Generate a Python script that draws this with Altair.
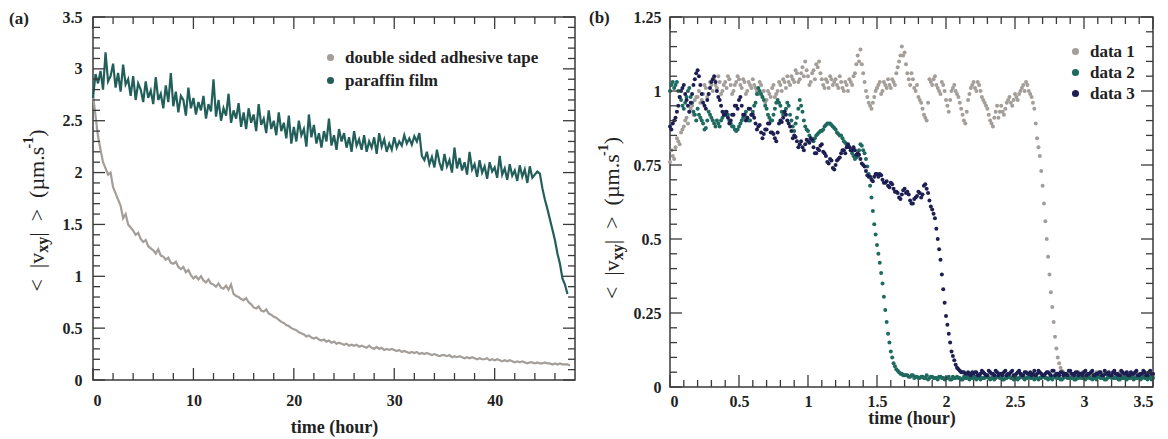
import altair as alt
import pandas as pd

# ---------------- panel (a): mean speed vs time, two substrates ----------------
A_STEP = 0.25  # hours between samples
A_SERIES = ["double sided adhesive tape", "paraffin film"]
A_COLORS = ["#a39e99", "#235f5a"]

tape = [
    2.75, 2.55, 2.35, 2.22, 2.10, 2.04, 1.98, 2.00, 1.86, 1.80, 1.74, 1.68,
    1.56, 1.60, 1.50, 1.47, 1.44, 1.40, 1.42, 1.36, 1.33, 1.35, 1.29, 1.27,
    1.25, 1.22, 1.26, 1.20, 1.19, 1.16, 1.18, 1.13, 1.12, 1.14, 1.09, 1.07,
    1.09, 1.04, 1.06, 1.01, 0.98, 1.00, 0.97, 1.00, 0.96, 0.94, 0.97, 0.93,
    0.92, 0.90, 0.93, 0.89, 0.88, 0.91, 0.87, 0.92, 0.83, 0.81, 0.80, 0.78,
    0.77, 0.79, 0.75, 0.73, 0.70, 0.69, 0.71, 0.67, 0.66, 0.68, 0.64, 0.63,
    0.61, 0.60, 0.58, 0.56, 0.55, 0.53, 0.52, 0.50, 0.49, 0.48, 0.46, 0.45,
    0.44, 0.42, 0.43, 0.41, 0.40, 0.41, 0.39, 0.38, 0.39, 0.37, 0.38, 0.36,
    0.37, 0.35, 0.36, 0.35, 0.34, 0.35, 0.33, 0.34, 0.33, 0.34, 0.32, 0.33,
    0.32, 0.31, 0.33, 0.31, 0.30, 0.32, 0.30, 0.31, 0.29, 0.30, 0.29, 0.30,
    0.29, 0.28, 0.29, 0.27, 0.28, 0.27, 0.26, 0.27, 0.26, 0.27, 0.25, 0.26,
    0.25, 0.26, 0.25, 0.24, 0.25, 0.24, 0.23, 0.24, 0.24, 0.23, 0.24, 0.22,
    0.23, 0.22, 0.23, 0.22, 0.21, 0.22, 0.21, 0.22, 0.21, 0.20, 0.21, 0.20,
    0.20, 0.21, 0.19, 0.20, 0.19, 0.20, 0.19, 0.18, 0.19, 0.18, 0.19, 0.18,
    0.17, 0.18, 0.17, 0.18, 0.17, 0.16, 0.17, 0.17, 0.16, 0.17, 0.16, 0.16,
    0.17, 0.16, 0.16, 0.15, 0.16, 0.15, 0.16, 0.15, 0.15, 0.15, 0.14,
]

film = [
    2.72, 2.95, 2.86, 2.98, 2.80, 3.16, 2.88, 2.93, 3.05, 2.82, 2.96, 2.78,
    3.04, 2.85, 2.90, 2.74, 2.93, 2.70, 2.86, 2.80, 2.68, 2.88, 2.72, 2.79,
    2.66, 2.92, 2.70, 2.76, 2.62, 2.84, 2.68, 2.96, 2.64, 2.78, 2.58, 2.74,
    2.70, 2.55, 2.82, 2.62, 2.72, 2.56, 2.68, 2.60, 2.74, 2.52, 2.66, 2.59,
    2.90, 2.54, 2.70, 2.50, 2.62, 2.55, 2.76, 2.48, 2.60, 2.52, 2.67, 2.44,
    2.58, 2.42, 2.62, 2.48, 2.56, 2.40, 2.66, 2.46, 2.52, 2.38, 2.60, 2.42,
    2.50, 2.36, 2.58, 2.40, 2.48, 2.33, 2.55, 2.28, 2.44, 2.30, 2.50, 2.36,
    2.42, 2.25, 2.56, 2.34, 2.46, 2.28, 2.38, 2.24, 2.40, 2.30, 2.52, 2.26,
    2.36, 2.22, 2.42, 2.30, 2.38, 2.24, 2.34, 2.20, 2.40, 2.26, 2.32, 2.22,
    2.36, 2.20, 2.30, 2.24, 2.34, 2.18, 2.38, 2.25, 2.32, 2.20, 2.28, 2.22,
    2.34, 2.24, 2.30, 2.26, 2.36, 2.28, 2.33, 2.27, 2.35, 2.30, 2.38, 2.16,
    2.12, 2.20, 2.08, 2.15, 2.05, 2.22, 2.10, 2.02, 2.18, 2.06, 2.12, 2.00,
    2.24, 2.04, 2.14, 2.02, 2.10, 1.98, 2.20, 2.03, 2.08, 1.96, 2.12, 2.00,
    2.06, 1.94, 2.10, 2.01, 2.05, 1.95, 2.16, 1.98, 2.04, 1.93, 2.08, 1.97,
    2.02, 1.92, 2.07, 1.96, 2.03, 1.90, 2.06, 1.95, 1.98, 2.01, 1.99, 1.85,
    1.74, 1.65, 1.55, 1.45, 1.35, 1.22, 1.12, 0.98, 0.92, 0.83,
]

A_XMAJ = [0, 10, 20, 30, 40]
A_XMIN = [2, 4, 6, 8, 12, 14, 16, 18, 22, 24, 26, 28, 32, 34, 36, 38, 42, 44, 46]
A_YMAJ = [0, 0.5, 1, 1.5, 2, 2.5, 3, 3.5]
A_YMIN = [round(i * 0.1, 1) for i in range(1, 35) if i % 5]

# ---------------- panel (b): three runs on a short time scale ----------------
# each run sampled every 0.01 h: "even" samples at 0.00, 0.02, ... and "odd" at 0.01, 0.03, ...
B_SERIES = ["data 1", "data 2", "data 3"]
B_COLORS = ["#a39e99", "#1f6a5e", "#1d1f52"]

data1_even = [
    0.76, 0.78, 0.81, 0.83, 0.86, 0.88, 0.91, 0.93, 0.95, 0.97,
    0.98, 0.96, 0.99, 1.01, 0.99, 1.02, 1.04, 1.01, 1.03, 1.00,
    1.03, 1.05, 1.02, 1.00, 1.03, 1.04, 1.01, 1.03, 1.00, 1.02,
    1.04, 1.01, 0.99, 1.02, 1.00, 0.97, 0.99, 1.01, 0.98, 1.00,
    1.02, 1.04, 1.01, 1.03, 1.05, 1.03, 1.06, 1.04, 1.08, 1.10,
    1.05, 1.03, 1.07, 1.09, 1.10, 1.04, 1.01, 1.03, 1.05, 1.02,
    1.04, 1.01, 1.03, 1.00, 1.02, 1.04, 1.02, 1.06, 1.12, 1.14,
    1.06, 1.00, 0.96, 0.94, 0.98, 1.01, 1.03, 1.00, 1.02, 1.04,
    1.01, 1.03, 1.06, 1.10, 1.15, 1.13, 1.06, 1.02, 1.04, 1.00,
    0.98, 0.96, 0.92, 0.90, 1.04, 1.02, 1.05, 1.01, 0.99, 1.02,
    0.97, 0.93, 1.00, 1.02, 0.99, 0.96, 0.92, 0.89, 0.97, 1.01,
    1.03, 1.00, 1.02, 0.98, 0.96, 0.94, 0.90, 0.88, 0.93, 0.91,
    0.95, 0.92, 0.96, 0.98, 0.95, 0.99, 0.97, 1.00, 1.02, 1.03,
    1.00, 0.98, 0.94, 0.84, 0.78, 0.68, 0.56, 0.44, 0.32, 0.22,
    0.13, 0.08, 0.055, 0.045, 0.04, 0.035, 0.045, 0.04, 0.05, 0.035,
    0.04, 0.045, 0.035, 0.05, 0.04, 0.035, 0.045, 0.04, 0.05, 0.04,
    0.035, 0.045, 0.04, 0.05, 0.035, 0.04, 0.045, 0.04, 0.035, 0.05,
    0.04, 0.045, 0.035, 0.04, 0.05, 0.04,
]
data1_odd = [
    0.80, 0.77, 0.84, 0.82, 0.87, 0.90, 0.89, 0.94, 0.92, 0.98,
    1.00, 0.97, 1.02, 0.98, 1.03, 1.00, 1.02, 1.05, 0.99, 1.02,
    1.01, 1.04, 0.99, 1.02, 1.05, 1.02, 1.04, 0.99, 1.03, 1.01,
    1.02, 1.00, 1.03, 0.98, 0.96, 1.00, 0.98, 1.02, 0.99, 1.03,
    1.00, 1.03, 1.05, 1.02, 1.04, 1.07, 1.03, 1.06, 1.05, 1.07,
    1.02, 1.06, 1.04, 1.08, 1.06, 1.02, 1.04, 1.01, 1.04, 1.03,
    1.02, 1.05, 1.01, 1.03, 1.00, 1.03, 1.05, 1.09, 1.10, 1.09,
    1.03, 0.98, 0.95, 0.96, 1.00, 1.02, 0.99, 1.03, 1.01, 1.02,
    1.04, 1.02, 1.08, 1.12, 1.12, 1.09, 1.04, 1.06, 1.01, 1.02,
    0.97, 0.94, 0.91, 0.96, 1.03, 1.04, 1.02, 1.00, 1.03, 1.00,
    0.95, 0.97, 1.01, 1.00, 0.98, 0.94, 0.90, 0.93, 0.99, 1.02,
    1.01, 1.03, 1.00, 0.97, 0.95, 0.92, 0.89, 0.91, 0.95, 0.93,
    0.93, 0.94, 0.97, 0.96, 0.97, 0.98, 0.99, 1.01, 1.00, 1.02,
    0.99, 0.96, 0.89, 0.81, 0.73, 0.62, 0.50, 0.38, 0.27, 0.17,
    0.10, 0.065, 0.05, 0.04, 0.045, 0.04, 0.035, 0.045, 0.04, 0.05,
    0.035, 0.04, 0.045, 0.04, 0.05, 0.04, 0.035, 0.045, 0.04, 0.035,
    0.045, 0.04, 0.035, 0.045, 0.04, 0.05, 0.035, 0.045, 0.04, 0.045,
    0.035, 0.04, 0.045, 0.04, 0.05,
]

data2_even = [
    1.00, 1.03, 1.02, 1.00, 0.97, 0.94, 0.98, 1.01, 0.96, 0.92,
    0.94, 0.91, 0.89, 0.875, 0.93, 0.91, 0.89, 0.90, 0.88, 0.91,
    0.93, 0.92, 0.89, 0.88, 0.865, 0.88, 0.90, 0.92, 0.91, 0.90,
    0.93, 0.96, 1.01, 0.99, 0.97, 0.94, 0.91, 0.90, 0.94, 0.97,
    0.95, 0.92, 0.94, 0.95, 0.90, 0.865, 0.91, 0.97, 0.93, 0.88,
    0.865, 0.84, 0.83, 0.85, 0.86, 0.865, 0.88, 0.89, 0.89, 0.88,
    0.87, 0.855, 0.85, 0.83, 0.82, 0.81, 0.79, 0.77, 0.78, 0.82,
    0.80, 0.77, 0.72, 0.64, 0.55, 0.48, 0.42, 0.35, 0.26, 0.18,
    0.12, 0.08, 0.06, 0.05, 0.045, 0.04, 0.04, 0.035, 0.04, 0.035,
    0.03, 0.035, 0.03, 0.04, 0.03, 0.035, 0.03, 0.025, 0.035, 0.03,
    0.03, 0.035, 0.025, 0.03, 0.035, 0.03, 0.025, 0.03, 0.035, 0.03,
    0.03, 0.025, 0.035, 0.03, 0.03, 0.035, 0.025, 0.03, 0.03, 0.035,
    0.03, 0.025, 0.03, 0.035, 0.03, 0.03, 0.025, 0.035, 0.03, 0.03,
    0.035, 0.03, 0.025, 0.03, 0.03, 0.035, 0.03, 0.025, 0.03, 0.035,
    0.03, 0.03, 0.025, 0.035, 0.03, 0.03, 0.035, 0.025, 0.03, 0.03,
    0.035, 0.03, 0.03, 0.025, 0.03, 0.035, 0.03, 0.03, 0.025, 0.035,
    0.03, 0.03, 0.035, 0.025, 0.03, 0.03, 0.035, 0.03, 0.025, 0.03,
    0.035, 0.03, 0.03, 0.025, 0.035, 0.03,
]
data2_odd = [
    1.02, 1.01, 1.03, 0.98, 0.95, 0.96, 1.00, 0.98, 0.93, 0.90,
    0.92, 0.90, 0.87, 0.90, 0.92, 0.90, 0.88, 0.89, 0.90, 0.92,
    0.92, 0.90, 0.88, 0.87, 0.87, 0.89, 0.91, 0.93, 0.90, 0.92,
    0.95, 0.99, 1.00, 0.98, 0.95, 0.92, 0.90, 0.92, 0.96, 0.96,
    0.93, 0.93, 0.96, 0.92, 0.88, 0.89, 0.94, 0.95, 0.90, 0.87,
    0.85, 0.835, 0.84, 0.855, 0.865, 0.87, 0.885, 0.89, 0.885, 0.875,
    0.86, 0.85, 0.84, 0.825, 0.815, 0.80, 0.78, 0.775, 0.80, 0.815,
    0.79, 0.745, 0.68, 0.595, 0.515, 0.45, 0.385, 0.305, 0.22, 0.15,
    0.10, 0.07, 0.055, 0.045, 0.04, 0.04, 0.035, 0.04, 0.03, 0.035,
    0.03, 0.035, 0.03, 0.025, 0.035, 0.03, 0.03, 0.035, 0.03, 0.025,
    0.03, 0.025, 0.035, 0.03, 0.03, 0.025, 0.035, 0.03, 0.025, 0.03,
    0.035, 0.03, 0.025, 0.03, 0.035, 0.03, 0.03, 0.025, 0.035, 0.03,
    0.025, 0.03, 0.035, 0.03, 0.025, 0.03, 0.03, 0.035, 0.025, 0.03,
    0.03, 0.035, 0.03, 0.025, 0.03, 0.035, 0.03, 0.03, 0.025, 0.035,
    0.03, 0.025, 0.03, 0.035, 0.03, 0.03, 0.025, 0.03, 0.035, 0.03,
    0.025, 0.035, 0.03, 0.03, 0.025, 0.035, 0.03, 0.025, 0.03, 0.035,
    0.03, 0.03, 0.025, 0.035, 0.03, 0.025, 0.03, 0.035, 0.03, 0.03,
    0.025, 0.035, 0.03, 0.03, 0.025,
]

data3_even = [
    0.88, 0.89, 0.91, 0.95, 1.00, 1.02, 0.97, 0.93, 0.99, 1.04,
    1.07, 1.02, 0.96, 0.94, 0.99, 1.03, 1.05, 1.00, 0.97, 0.93,
    0.92, 0.91, 0.90, 0.92, 0.95, 0.97, 0.95, 0.92, 0.91, 0.94,
    0.92, 0.89, 0.88, 0.86, 0.855, 0.87, 0.89, 0.86, 0.84, 0.86,
    0.90, 0.91, 0.92, 0.89, 0.865, 0.85, 0.83, 0.82, 0.81, 0.82,
    0.83, 0.84, 0.81, 0.79, 0.80, 0.82, 0.79, 0.76, 0.77, 0.74,
    0.75, 0.77, 0.79, 0.80, 0.81, 0.81, 0.80, 0.80, 0.79, 0.77,
    0.75, 0.73, 0.71, 0.70, 0.71, 0.72, 0.72, 0.70, 0.69, 0.68,
    0.69, 0.67, 0.66, 0.64, 0.65, 0.67, 0.66, 0.63, 0.62, 0.64,
    0.66, 0.64, 0.68, 0.67, 0.63, 0.60, 0.57, 0.50, 0.43, 0.33,
    0.24, 0.18, 0.12, 0.09, 0.065, 0.055, 0.05, 0.045, 0.05, 0.04,
    0.045, 0.05, 0.04, 0.055, 0.045, 0.04, 0.05, 0.045, 0.055, 0.04,
    0.045, 0.05, 0.04, 0.045, 0.055, 0.04, 0.05, 0.045, 0.04, 0.05,
    0.045, 0.04, 0.055, 0.045, 0.05, 0.04, 0.045, 0.05, 0.04, 0.055,
    0.045, 0.04, 0.05, 0.045, 0.04, 0.055, 0.045, 0.05, 0.04, 0.045,
    0.05, 0.04, 0.045, 0.055, 0.04, 0.045, 0.05, 0.04, 0.045, 0.05,
    0.04, 0.055, 0.045, 0.04, 0.05, 0.045, 0.04, 0.05, 0.045, 0.055,
    0.04, 0.045, 0.05, 0.04, 0.055, 0.045,
]
data3_odd = [
    0.87, 0.90, 0.93, 0.98, 1.01, 0.99, 0.95, 0.96, 1.02, 1.06,
    1.05, 0.99, 0.95, 0.97, 1.01, 1.04, 1.03, 0.98, 0.95, 0.92,
    0.93, 0.89, 0.92, 0.95, 0.94, 0.98, 0.92, 0.90, 0.94, 0.92,
    0.91, 0.87, 0.885, 0.84, 0.87, 0.89, 0.86, 0.855, 0.83, 0.89,
    0.895, 0.93, 0.90, 0.88, 0.84, 0.845, 0.81, 0.83, 0.80, 0.835,
    0.825, 0.835, 0.79, 0.805, 0.815, 0.795, 0.78, 0.755, 0.765, 0.735,
    0.765, 0.775, 0.80, 0.79, 0.82, 0.80, 0.81, 0.785, 0.785, 0.755,
    0.745, 0.715, 0.71, 0.695, 0.72, 0.71, 0.715, 0.69, 0.695, 0.675,
    0.685, 0.66, 0.655, 0.635, 0.665, 0.655, 0.65, 0.62, 0.635, 0.645,
    0.655, 0.65, 0.685, 0.655, 0.61, 0.585, 0.535, 0.465, 0.38, 0.285,
    0.21, 0.15, 0.105, 0.075, 0.06, 0.05, 0.05, 0.045, 0.045, 0.05,
    0.05, 0.04, 0.045, 0.05, 0.04, 0.055, 0.045, 0.04, 0.05, 0.045,
    0.04, 0.055, 0.045, 0.05, 0.04, 0.045, 0.055, 0.04, 0.05, 0.045,
    0.05, 0.045, 0.04, 0.055, 0.045, 0.04, 0.05, 0.045, 0.055, 0.04,
    0.045, 0.05, 0.04, 0.045, 0.055, 0.045, 0.04, 0.05, 0.045, 0.04,
    0.055, 0.045, 0.05, 0.04, 0.045, 0.05, 0.04, 0.055, 0.045, 0.04,
    0.05, 0.045, 0.04, 0.055, 0.045, 0.05, 0.04, 0.045, 0.05, 0.04,
    0.045, 0.055, 0.04, 0.05, 0.045,
]

B_XMAJ = [0, 0.5, 1, 1.5, 2, 2.5, 3, 3.5]
B_XMIN = [round(i * 0.1, 1) for i in range(1, 35) if i % 5]
B_YMAJ = [0, 0.25, 0.5, 0.75, 1, 1.25]
B_YMIN = [round(i * 0.05, 2) for i in range(1, 25) if i % 5]

# ---------------- styling ----------------
FONT = "Liberation Serif"
INK = "#222222"
FRAME = "#3a3a3a"
FMT = ".6~g"

# advance widths (em) of the glyphs used in the y title (Times metrics)
GLYPH_W = {"<": 0.564, ">": 0.564, "|": 0.2, "v": 0.5, "x": 0.5, "y": 0.5, "(": 0.333,
           ")": 0.333, "µ": 0.5, "m": 0.778, ".": 0.25, "s": 0.389, "-": 0.333, "1": 0.5,
           "\u2002": 0.5}
# (text, font size, weight, sideways shift) pieces of "< |v_xy| > (µm.s^-1)"
Y_TITLE_PIECES = [("<\u2002|v", 22, "normal", 0), ("xy", 16, "bold", 6),
                  ("|\u2002>\u2002(µm.s", 22, "normal", 0), ("-1", 14, "bold", -8),
                  (")", 22, "normal", 0)]


def x_axis(values, label_pad, title_pad):
    return alt.Axis(values=values, format=FMT, title="time (hour)", ticks=False, tickSize=0,
                    domain=False, grid=False, labelFont=FONT, labelFontSize=16,
                    labelFontWeight="bold", labelColor=INK, labelPadding=label_pad,
                    titleFont=FONT, titleFontSize=18, titleFontWeight="bold",
                    titleColor=INK, titlePadding=title_pad)


def y_axis(values, label_pad):
    return alt.Axis(values=values, format=FMT, title=None, ticks=False, tickSize=0,
                    domain=False, grid=False, labelFont=FONT, labelFontSize=16,
                    labelFontWeight="bold", labelColor=INK, labelPadding=label_pad)


def y_title_layers(x0, y_center):
    widths = [fs * sum(GLYPH_W[c] for c in txt) for txt, fs, _, _ in Y_TITLE_PIECES]
    y = y_center + sum(widths) / 2
    layers = []
    for (txt, fs, fw, dx), w in zip(Y_TITLE_PIECES, widths):
        layers.append(alt.Chart(pd.DataFrame({"s": [txt]})).mark_text(
            angle=270, align="left", baseline="middle", font=FONT, fontSize=fs,
            fontWeight=fw, color=INK
        ).encode(x=alt.value(x0 + dx), y=alt.value(y), text="s:N"))
        y -= w
    return layers


def tick_layers(X, Y, W, H, xmaj, xmin, ymaj, ymin):
    layers = []
    for vals, L in ((xmaj, 12), (xmin, 7)):
        base = alt.Chart(pd.DataFrame({"t": vals})).mark_tick(
            color=FRAME, thickness=1.3, size=L, opacity=1)
        layers.append(base.encode(x=X, y=alt.value(H - L / 2)))
        layers.append(base.encode(x=X, y=alt.value(L / 2)))
    for vals, L in ((ymaj, 12), (ymin, 7)):
        base = alt.Chart(pd.DataFrame({"v": vals})).mark_tick(
            color=FRAME, thickness=1.3, size=L, opacity=1)
        layers.append(base.encode(y=Y, x=alt.value(L / 2)))
        layers.append(base.encode(y=Y, x=alt.value(W - L / 2)))
    return layers


def legend(x, y, row_pad):
    return alt.Legend(title=None, orient="none", legendX=x, legendY=y, symbolType="circle",
                      symbolSize=50, symbolStrokeWidth=0, labelFont=FONT, labelFontSize=17,
                      labelFontWeight="bold", labelColor=INK, labelOffset=6, labelLimit=500,
                      rowPadding=row_pad, padding=0)


def panel_label(text, x, y):
    return alt.Chart(pd.DataFrame({"lab": [text]})).mark_text(
        font=FONT, fontSize=17, fontWeight="bold", color=INK, align="left", baseline="middle"
    ).encode(x=alt.value(x), y=alt.value(y), text="lab:N")


# ---------------- panel (a) ----------------
WA, HA = 482, 363
rows = []
for name, vals in zip(A_SERIES, [tape, film]):
    for i, v in enumerate(vals):
        rows.append({"t": i * A_STEP, "v": v, "series": name})
dfA = pd.DataFrame(rows)

XA = alt.X("t:Q", scale=alt.Scale(domain=[0, 48], nice=False, zero=False), axis=x_axis(A_XMAJ, 12, 10))
YA = alt.Y("v:Q", scale=alt.Scale(domain=[0, 3.5], nice=False), axis=y_axis(A_YMAJ, 11))
colA_scale = alt.Scale(domain=A_SERIES, range=A_COLORS)

legend_a = alt.Chart(dfA).mark_circle(size=50, opacity=1).encode(
    color=alt.Color("series:N", scale=colA_scale, legend=legend(229, 32, 5))
).transform_filter("false")
lines_a = alt.Chart(dfA).mark_line(strokeWidth=2.2).encode(
    x=XA, y=YA, color=alt.Color("series:N", scale=colA_scale, legend=None)
)
panel_a = alt.layer(
    legend_a, lines_a, *tick_layers(XA, YA, WA, HA, A_XMAJ, A_XMIN, A_YMAJ, A_YMIN),
    *y_title_layers(-56, HA / 2 + 12),
    panel_label("(a)", -84, 2)
).properties(width=WA, height=HA)

# ---------------- panel (b) ----------------
WB, HB = 483, 370
rows = []
for name, even, odd in zip(B_SERIES, [data1_even, data2_even, data3_even],
                           [data1_odd, data2_odd, data3_odd]):
    for i, v in enumerate(even):
        rows.append({"t": round(i * 0.02, 2), "v": v, "series": name})
    for i, v in enumerate(odd):
        rows.append({"t": round(0.01 + i * 0.02, 2), "v": v, "series": name})
dfB = pd.DataFrame(rows)

XB = alt.X("t:Q", scale=alt.Scale(domain=[0, 3.5], nice=False, zero=False), axis=x_axis(B_XMAJ, 6, 0))
YB = alt.Y("v:Q", scale=alt.Scale(domain=[0, 1.25], nice=False), axis=y_axis(B_YMAJ, 9))

points_b = alt.Chart(dfB).mark_circle(size=16, opacity=1).encode(
    x=XB, y=YB,
    color=alt.Color("series:N", scale=alt.Scale(domain=B_SERIES, range=B_COLORS),
                    legend=legend(397, 26, 3)),
    order=alt.Order("series:N"),
)
panel_b = alt.layer(
    points_b, *tick_layers(XB, YB, WB, HB, B_XMAJ, B_XMIN, B_YMAJ, B_YMIN),
    *y_title_layers(-58, HB / 2 + 16),
    panel_label("(b)", -81, 1)
).properties(width=WB, height=HB)

chart = alt.hconcat(panel_a, panel_b, spacing=12).resolve_scale(color="independent").configure_view(
    stroke=FRAME, strokeWidth=1.5
).properties(padding=0, background="white")

chart.save("out.html", embed_options={"renderer": "svg", "actions": False})
